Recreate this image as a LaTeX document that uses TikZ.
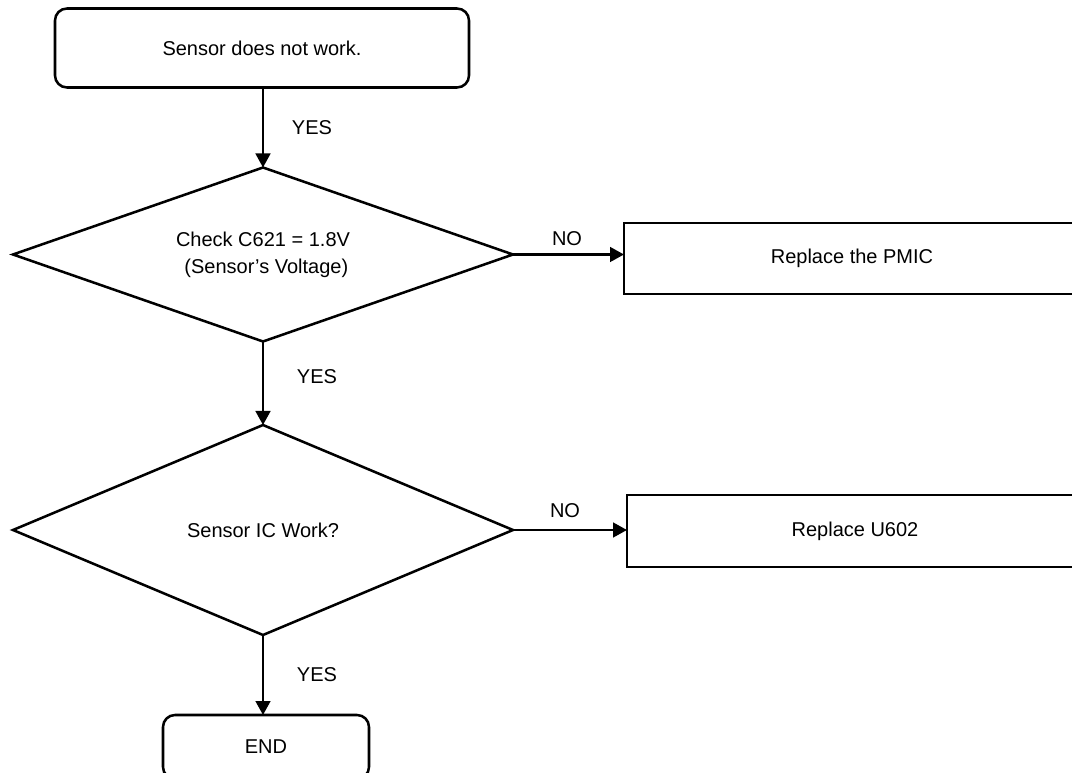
\documentclass[tikz,border=0pt]{standalone}
\usepackage{fontspec}
\setmainfont{Liberation Sans}
\usetikzlibrary{shapes.geometric,arrows.meta}
\begin{document}
\begin{tikzpicture}[x=0.75pt,y=-0.75pt,
  font=\fontsize{15}{20.5}\selectfont,
  every node/.style={inner sep=0pt, outer sep=0pt},
  shp/.style={draw, line width=1.9pt, fill=white, align=center},
  term/.style={shp, rectangle, rounded corners=9pt},
  proc/.style={shp, rectangle},
  dec/.style={shp, diamond, aspect=2.9},
  arr/.style={line width=1.9pt, -{Triangle[length=10.5pt,width=11pt]}},
  lbl/.style={font=\fontsize{15}{18}\selectfont}
]
\useasboundingbox (0,0) rectangle (1072,773);
\clip (0,0) rectangle (1072,773);
\node[term, minimum width=310.5pt, minimum height=59.25pt] (start) at (262,48) {Sensor does not work.};
\node[dec, minimum width=375pt, minimum height=130.5pt] (d1) at (263,254.5) {Check C621 = 1.8V\\ \hspace*{5pt}(Sensor's Voltage)};
\node[proc, minimum width=342pt, minimum height=53.25pt] (pmic) at (852,258.5) {Replace the PMIC};
\node[dec, minimum width=375pt, minimum height=157.5pt] (d2) at (263,530) {Sensor IC Work?};
\node[proc, minimum width=342pt, minimum height=54pt] (u602) at (855,531) {Replace U602};
\node[term, minimum width=154.5pt, minimum height=48pt] (end) at (266,747) {END};

\draw[arr] (start.south -| d1.north) -- (d1.north);
\draw[arr] (d1.south) -- (d2.north);
\draw[arr] (d2.south) -- (d2.south |- end.north);
\draw[arr] (d1.east) -- (d1.east -| pmic.west);
\draw[arr] (d2.east) -- (d2.east -| u602.west);

\node[lbl] (y1) at (312,128) {YES};
\node[lbl] (y2) at (317,377) {YES};
\node[lbl] (y3) at (317,675) {YES};
\node[lbl] (n1) at (567,239) {NO};
\node[lbl] (n2) at (565,511) {NO};
\end{tikzpicture}
\end{document}
